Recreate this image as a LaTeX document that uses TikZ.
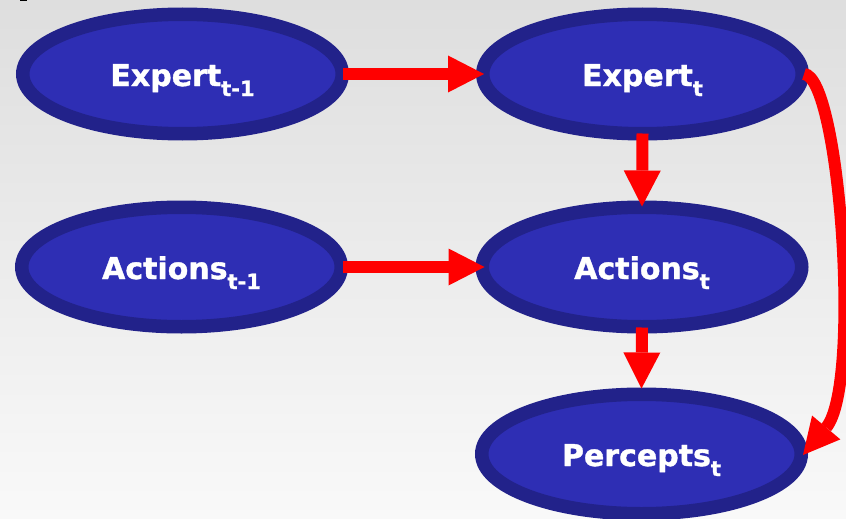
\documentclass[tikz,border=0pt]{standalone}
\usepackage{fontspec}
\setmainfont[BoldFeatures={FakeBold=1.2}]{DejaVu Sans}
\usetikzlibrary{arrows.meta,shapes.geometric}
\definecolor{bnavy}{RGB}{34,34,138}
\definecolor{bfill}{RGB}{46,46,180}
\definecolor{bgtop}{RGB}{222,222,222}
\definecolor{bgbot}{RGB}{249,249,249}
\definecolor{ared}{RGB}{255,0,0}
\newcommand{\subx}[1]{\raisebox{-10pt}{\fontsize{21}{21}\selectfont #1}}
\begin{document}
\begin{tikzpicture}[x=1pt,y=-1pt,
  state/.style={ellipse, draw=bnavy, fill=bfill, line width=13.5pt,
    minimum width=319.5pt, minimum height=119.5pt, inner sep=0pt, outer sep=6.75pt,
    text=white, text height=24pt, text depth=0pt,
    font=\fontsize{30}{32}\selectfont\bfseries},
  arr/.style={draw=ared, line width=12pt,
    -{Triangle[length=36pt,width=37pt,line width=0pt]}}]
\useasboundingbox (0,0) rectangle (846,519);
\shade[top color=bgtop, bottom color=bgbot] (0,0) rectangle (846,519);
\fill[black] (20,0) rectangle (27,1.5);

\node[state] (e1) at (182.5,74) {Expert\subx{t-1}};
\node[state] (e2) at (642.5,74) {Expert\subx{t}};
\node[state] (a1) at (181.5,267) {Actions\subx{t-1}};
\node[state] (a2) at (642,267) {Actions\subx{t}};
\node[state] (p) at (641.5,454) {Percepts\subx{t}};

\draw[arr] ([xshift=-6pt]e1.east) -- ([xshift=8pt]e2.west);
\draw[arr] ([xshift=-5pt]a1.east) -- ([xshift=9pt]a2.west);
\draw[arr] ([yshift=7pt]e2.south) -- ([yshift=-6pt]a2.north);
\draw[arr] ([yshift=6pt]a2.south) -- ([yshift=-1pt]p.north);
\draw[arr] ([xshift=-5pt]e2.east) .. controls (840,76) and (862,385) .. ([xshift=-5pt,yshift=-1pt]p.east);
\end{tikzpicture}
\end{document}
